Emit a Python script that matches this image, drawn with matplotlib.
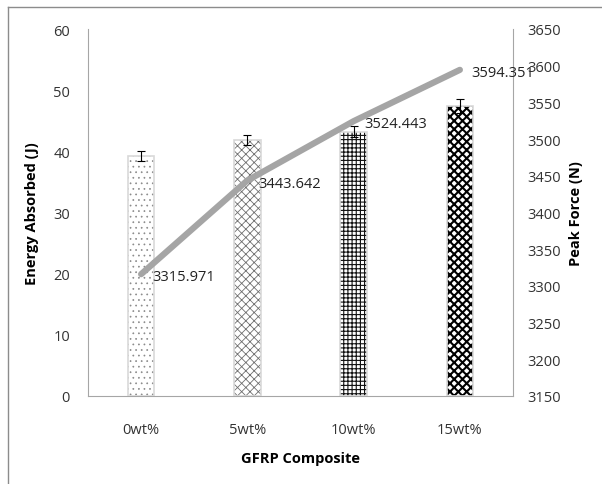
import matplotlib
matplotlib.use("Agg")
import matplotlib.pyplot as plt
import numpy as np

categories = ["0wt%", "5wt%", "10wt%", "15wt%"]
energy = [39.2, 41.9, 43.2, 47.4]
energy_err = [0.8, 0.8, 0.9, 1.2]
peak_force = [3315.971, 3443.642, 3524.443, 3594.351]
hatches = ["...", "xxxx", "++++", "xxxx"]
hatch_colors = ["#8A8A8A", "#6E6E6E", "#111111", "#000000"]
hatch_lws = [0.5, 0.6, 0.8, 1.5]

plt.rcParams['font.family'] = ['Open Sans', 'DejaVu Sans']

fig = plt.figure(figsize=(6.02, 4.85), dpi=100)
ax = fig.add_axes([88/602, 1-397/485, (513-88)/602, (397-30)/485])
x = np.arange(len(categories))

for i in range(len(categories)):
    b = ax.bar(x[i], energy[i], width=0.25, color="white", edgecolor=hatch_colors[i],
               hatch=hatches[i], linewidth=0, zorder=2)
    if hasattr(b[0], "set_hatch_linewidth"):
        b[0].set_hatch_linewidth(hatch_lws[i])
    ax.bar(x[i], energy[i], width=0.25, fill=False, edgecolor="#D9D9D9", linewidth=1.2, zorder=3)
ax.errorbar(x, energy, yerr=energy_err, fmt="none", ecolor="black", elinewidth=0.8,
            capsize=3, capthick=0.8, zorder=4)

ax.set_ylim(0, 60)
ax.set_xlim(-0.5, 3.5)
ax.set_yticks(range(0, 61, 10))
ax.set_xticks(x)
ax.set_xticklabels(categories)
ax.tick_params(length=0, labelsize=10.5, colors="#333333")
ax.tick_params(axis="x", pad=19)
ax.tick_params(axis="y", pad=13)
for s in ["top", "right"]:
    ax.spines[s].set_visible(False)
for s in ["left", "bottom"]:
    ax.spines[s].set_color("#A6A6A6")
ax.set_ylabel("Energy Absorbed (J)", fontweight="bold", fontsize=10.5, labelpad=10)
ax.set_xlabel("GFRP Composite", fontweight="bold", fontsize=10.5, labelpad=10)

ax2 = ax.twinx()
ax2.plot(x, peak_force, color="#A5A5A5", linewidth=4.5, solid_capstyle="round", zorder=5)
ax2.set_ylim(3150, 3650)
ax2.set_yticks(range(3150, 3651, 50))
ax2.tick_params(length=0, labelsize=10.5, colors="#333333", pad=10)
for s in ["top", "left", "bottom"]:
    ax2.spines[s].set_visible(False)
ax2.spines["right"].set_color("#A6A6A6")
ax2.set_ylabel("Peak Force (N)", fontweight="bold", fontsize=10.5, labelpad=6)
for xi, v in zip(x, peak_force):
    ax2.annotate(f"{v:.3f}", (xi, v), xytext=(8, -2), textcoords="offset points",
                 ha="left", va="center", fontsize=10.5, color="#222222", zorder=6)

fig.add_artist(plt.Line2D([8/602, 8/602], [0, 1-8/485], color="#8C8C8C", linewidth=1))
fig.add_artist(plt.Line2D([8/602, 1], [1-8/485, 1-8/485], color="#8C8C8C", linewidth=1))

fig.savefig("out.png", dpi=100)
